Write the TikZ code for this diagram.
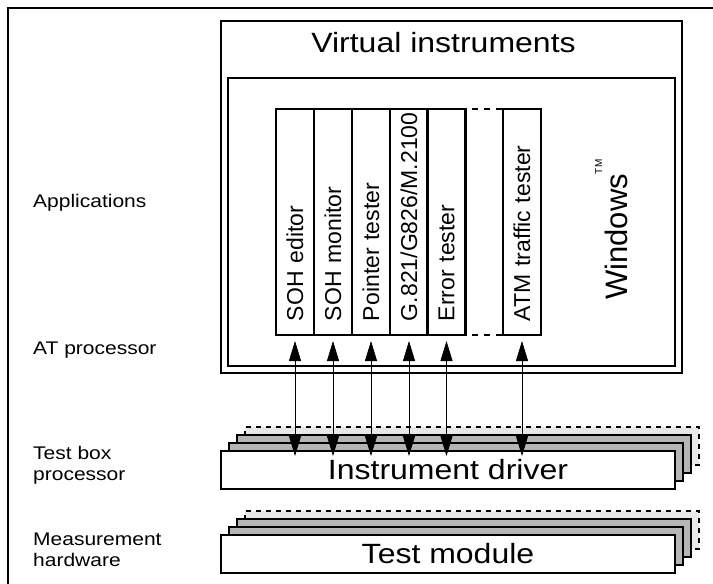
\documentclass[tikz,border=0pt]{standalone}
\usepackage{fontspec}
\setmainfont{Liberation Sans}
\usetikzlibrary{arrows.meta,positioning}
\definecolor{layergray}{gray}{0.71}
\definecolor{ghostgray}{gray}{0.91}
\newcommand{\squash}[1]{\scalebox{1}[0.87]{#1}}
\tikzset{
    box/.style={draw, line width=2.2pt, outer sep=0pt, inner sep=0pt},
    app/.style={box, rotate=90, minimum width=226pt, minimum height=38pt,
        inner xsep=14pt, text width=198pt, align=left,
        font=\fontsize{23}{25}\selectfont},
    layer/.style={box, minimum width=454pt, minimum height=38pt,
        font=\fontsize{32}{36}\selectfont},
    backlayer/.style={layer, fill=layergray},
    ghost/.style={layer, fill=ghostgray, dash pattern=on 5pt off 5pt},
    side/.style={anchor=base west, inner sep=0pt, font=\fontsize{21}{24}\selectfont},
    link/.style={{Triangle[length=20pt,width=12pt]}-{Triangle[length=20pt,width=12pt]},
        line width=0.8pt, shorten <=6pt, shorten >=-5pt},
}

\begin{document}
\begin{tikzpicture}[x=1pt,y=-1pt]
        \useasboundingbox (0,0) rectangle (713,584);
        \draw[line width=2.2pt] (8,8) rectangle (722,592);

        % left column of labels
        \node[side] (lapp) at (33,207) {\squash{Applications}};
        \node[side] (lat) at (33,354) {\squash{AT processor}};
        \node[side] (ltb) at (33,459) {\squash{Test box}};
        \node[side] (ltb2) at (33,480) {\squash{processor}};
        \node[side] (lmh) at (33,545) {\squash{Measurement}};
        \node[side] (lmh2) at (33,566) {\squash{hardware}};

        % PC side
        \node[box, minimum width=461pt, minimum height=352pt] (vi) at (451.5,197) {};
        \node[anchor=base, inner sep=0pt, font=\fontsize{32}{36}\selectfont] (vititle) at (443.5,52) {\squash{Virtual instruments}};
        \node[box, minimum width=447pt, minimum height=288pt] (win) at (451.5,222) {};
        \node[rotate=90, anchor=base west, inner sep=0pt, font=\fontsize{31}{36}\selectfont] (winlbl) at (627,300)
            {Windows\raisebox{25pt}{\fontsize{10}{10}\selectfont TM}};

        \node[app] (sohed) at (295,222) {SOH editor};
        \node[app] (sohmon) at (333,222) {SOH monitor};
        \node[app] (ptr) at (371,222) {Pointer tester};
        \node[app] (gperf) at (409,222) {G.821/G826/M.2100};
        \node[app] (err) at (446.5,222) {Error tester};
        \node[app] (atm) at (522,222) {ATM traffic tester};
        % rotated nodes: south = page right, north = page left
        \draw[line width=2.2pt, dash pattern=on 6pt off 6pt, dash phase=6pt] (err.south east) -- (atm.north east);
        \draw[line width=2.2pt, dash pattern=on 6pt off 6pt, dash phase=6pt] (err.south west) -- (atm.north west);

        % test box stacks
        \coordinate (drvpos) at (448,470);
        \coordinate (tmpos) at (448,554);
        \node[ghost] (drv3) at ([shift={(24,-24)}]drvpos) {};
        \node[backlayer] (drv2) at ([shift={(16,-16)}]drvpos) {};
        \node[backlayer] (drv1) at ([shift={(8,-8)}]drvpos) {};
        \node[layer, fill=white] (drv) at (drvpos) {\squash{Instrument driver}};
        \node[ghost] (tm3) at ([shift={(24,-24)}]tmpos) {};
        \node[backlayer] (tm2) at ([shift={(16,-16)}]tmpos) {};
        \node[backlayer] (tm1) at ([shift={(8,-8)}]tmpos) {};
        \node[layer, fill=white] (tm) at (tmpos) {\squash{Test module}};

        % links between applications and driver
        \draw[link] (sohed.west) -- (sohed.west |- drv.north);
        \draw[link] (sohmon.west) -- (sohmon.west |- drv.north);
        \draw[link] (ptr.west) -- (ptr.west |- drv.north);
        \draw[link] (gperf.west) -- (gperf.west |- drv.north);
        \draw[link] (err.west) -- (err.west |- drv.north);
        \draw[link] (atm.west) -- (atm.west |- drv.north);
\end{tikzpicture}
\end{document}
